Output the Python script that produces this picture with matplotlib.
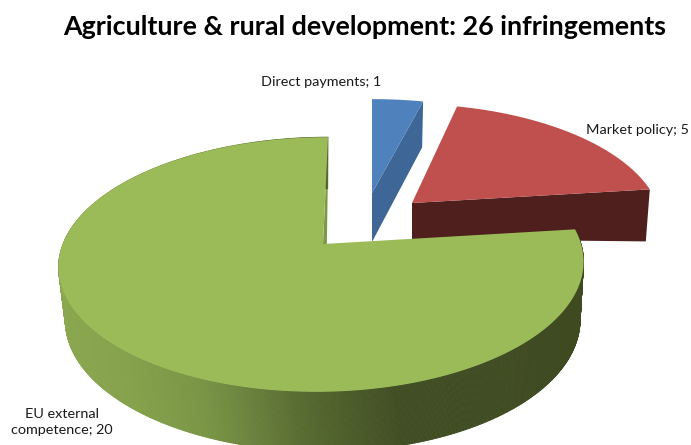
import numpy as np
import matplotlib
matplotlib.use("Agg")
import matplotlib.pyplot as plt
from matplotlib.collections import PolyCollection
from matplotlib.colors import LinearSegmentedColormap

categories = ["Direct payments", "Market policy", "EU external\ncompetence"]
values = [1, 5, 20]
title = "Agriculture & rural development: 26 infringements"

top_colors = ["#4f81bd", "#bf504d", "#9bbb59"]
face_colors = ["#3e6797", "#4e1f1d", "#7c9a45"]

W, H = 691, 445
plt.rcParams["font.family"] = ["Lato", "DejaVu Sans"]
fig = plt.figure(figsize=(W / 100, H / 100), dpi=100)
ax = fig.add_axes([0, 0, 1, 1])
ax.set_xlim(0, W)
ax.set_ylim(H, 0)
ax.axis("off")

K = 0.161


def project(theta, p):
    """Perspective map of the unit disc (angle clockwise from 12 o'clock)."""
    x, y = np.sin(theta), np.cos(theta)
    d = 1 + K * y
    return (p["X"] + (p["A"] * x + p["c"] * y) / d - p["e"] * x ** 2,
            p["Y"] - p["B"] * y / d)


def top_poly(a0, a1, p):
    t = np.linspace(a0, a1, 300)
    xs, ys = project(t, p)
    return np.column_stack([np.r_[p["X"], xs], np.r_[p["Y"], ys]])


edges = np.r_[0, np.cumsum(values)] / sum(values) * 2 * np.pi

blue = dict(X=372, Y=193, A=247, B=109, c=0, e=0)
red = dict(X=412, Y=203, A=245, B=115, c=-6.7, e=0)
green = dict(X=323, Y=244, A=259, B=124, c=5.8, e=1)
green_low = dict(X=326, Y=299, A=254, B=128, c=2, e=3)

# cut face of the blue slice
bt = project(edges[1], blue)
ax.fill([blue["X"], bt[0], bt[0] - 1, blue["X"]],
        [blue["Y"], bt[1], bt[1] + 46, blue["Y"] + 49],
        color=face_colors[0], lw=0, zorder=1)
ax.add_patch(plt.Polygon(top_poly(edges[0], edges[1], blue), color=top_colors[0], lw=0, zorder=2))

# cut face of the red slice
rt = project(edges[2], red)
ax.fill([red["X"], rt[0], rt[0] - 4, red["X"]],
        [red["Y"], rt[1], rt[1] + 52, red["Y"] + 36],
        color=face_colors[1], lw=0, zorder=3)
ax.add_patch(plt.Polygon(top_poly(edges[1], edges[2], red), color=top_colors[1], lw=0, zorder=4))

# green slice: inner face, shaded rim, top face
g0t = project(edges[0], green)
g0b = project(edges[0], green_low)
ax.fill([green["X"], g0t[0], g0b[0], green_low["X"]],
        [green["Y"], g0t[1], g0b[1], green_low["Y"]],
        color=face_colors[2], lw=0, zorder=5)

shade = LinearSegmentedColormap.from_list(
    "rim",
    [(0.0, "#8ba851"), (0.13, "#86a24c"), (0.27, "#7a9645"), (0.34, "#6f8840"),
     (0.40, "#647a39"), (0.46, "#586c31"), (0.545, "#4d5e2b"), (0.65, "#414e24"), (1.0, "#3f4a21")])
t = np.linspace(edges[2], edges[3], 800)
xt, yt = project(t, green)
xb, yb = project(t, green_low)
quads = [[(xt[i], yt[i]), (xt[i + 1], yt[i + 1]), (xb[i + 1], yb[i + 1]), (xb[i], yb[i])]
         for i in range(len(t) - 1)]
cols = [shade((0.5 * (xt[i] + xb[i]) - 59) / (584 - 59)) for i in range(len(t) - 1)]
ax.add_collection(PolyCollection(quads, facecolors=cols, edgecolors=cols, linewidths=0.6, zorder=6))
ax.add_patch(plt.Polygon(top_poly(edges[2], edges[3], green), color=top_colors[2], lw=0, zorder=7))

# labels
txt = "#1a1a1a"
ax.text(364.5, 27, title, ha="center", va="center", fontsize=19.4, fontweight="bold", color="black", zorder=10)
label_pos = [(321, 82, "center"), (637, 130, "center"), (62, 422, "center")]
for name, v, (lx, ly, ha) in zip(categories, values, label_pos):
    ax.text(lx, ly, f"{name}; {v}", ha=ha, va="center", fontsize=10.4, color=txt,
            linespacing=1.4, zorder=10)

fig.savefig("out.png", dpi=100)
